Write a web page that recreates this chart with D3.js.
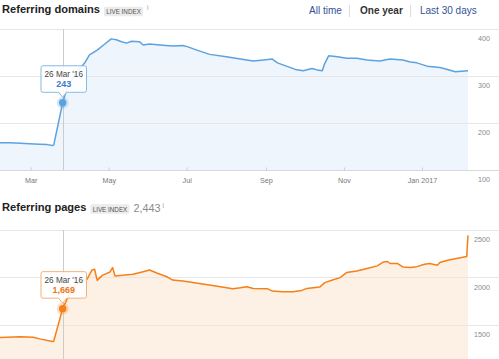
<!DOCTYPE html>
<html>
<head>
<meta charset="utf-8">
<script src="https://cdn.jsdelivr.net/npm/d3@7/dist/d3.min.js"></script>
<style>
  html, body { margin: 0; padding: 0; background: #fff; }
  svg { display: block; font-family: "Liberation Sans", Arial, Helvetica, sans-serif; }
</style>
</head>
<body>
<svg id="chart" width="499" height="359"></svg>
<script>
// ---------- DATA ----------
const domainDates = ["2016-02-06","2016-02-14","2016-02-22","2016-02-29","2016-03-08","2016-03-14","2016-03-18","2016-03-19","2016-03-26","2016-03-29","2016-04-02","2016-04-07","2016-04-12","2016-04-16","2016-04-22","2016-04-27","2016-05-03","2016-05-07","2016-05-11","2016-05-15","2016-05-19","2016-05-25","2016-05-28","2016-06-02","2016-06-10","2016-06-20","2016-06-28","2016-07-02","2016-07-09","2016-07-19","2016-08-01","2016-08-12","2016-08-22","2016-08-30","2016-09-06","2016-09-10","2016-09-17","2016-09-24","2016-09-30","2016-10-07","2016-10-11","2016-10-15","2016-10-17","2016-10-20","2016-10-27","2016-11-03","2016-11-11","2016-11-19","2016-11-29","2016-12-07","2016-12-17","2016-12-23","2016-12-28","2017-01-05","2017-01-15","2017-01-21","2017-01-27","2017-02-01","2017-02-06"];
const domainValues = [158,158,157,156,155,154,152,153,243,270,290,312,327,345,355,366,379,377,373,370,374,373,366,368,366,364,365,362,355,346,341,336,332,334,336,328,321,314,311,316,313,311,327,343,341,338,338,334,332,336,334,330,328,321,318,314,309,310,311];

const pageDates = ["2016-02-06","2016-02-22","2016-03-03","2016-03-08","2016-03-18","2016-03-19","2016-03-26","2016-04-02","2016-04-09","2016-04-14","2016-04-18","2016-04-20","2016-04-22","2016-04-26","2016-05-02","2016-05-04","2016-05-06","2016-05-12","2016-05-20","2016-05-28","2016-06-02","2016-06-08","2016-06-16","2016-06-20","2016-06-28","2016-07-11","2016-07-25","2016-08-06","2016-08-12","2016-08-17","2016-08-22","2016-09-02","2016-09-06","2016-09-14","2016-09-22","2016-09-29","2016-10-03","2016-10-13","2016-10-17","2016-10-23","2016-10-29","2016-11-03","2016-11-11","2016-11-19","2016-11-27","2016-12-02","2016-12-05","2016-12-07","2016-12-13","2016-12-17","2016-12-23","2016-12-28","2017-01-03","2017-01-07","2017-01-13","2017-01-15","2017-01-21","2017-01-28","2017-02-05","2017-02-06"];
const pageValues = [1365,1372,1368,1350,1322,1325,1669,1872,1961,1979,2078,2085,1968,2021,2056,2103,2014,2021,2032,2060,2078,2043,2003,1971,1961,1936,1907,1880,1890,1901,1883,1880,1855,1848,1848,1862,1883,1897,1944,1971,1997,2050,2067,2093,2121,2163,2167,2146,2146,2110,2103,2113,2138,2146,2128,2156,2181,2199,2220,2443];

const xTickDates = ["2016-03-01","2016-05-01","2016-07-01","2016-09-01","2016-11-01","2017-01-01"];
const xTickLabels = ["Mar","May","Jul","Sep","Nov","Jan 2017"];
const domainTicks = [100,200,300,400];
const pageTicks = [1000,1500,2000,2500];
const rangeOptions = ["All time","One year","Last 30 days"];
const hoverDate = "2016-03-26";
const hoverLabel = "26 Mar '16";
const domainHover = 243;
const pageHover = 1669;
const pageTotal = "2,443";

// ---------- SETUP ----------
const parse = d3.timeParse("%Y-%m-%d");
const svg = d3.select("#chart");
const W = 499, H = 359;
const plotRight = 468;
const x = d3.scaleTime()
  .domain([parse("2016-02-06"), parse("2017-02-06")])
  .range([0, plotRight]);

function header(y, title, extra) {
  const g = svg.append("g");
  const t = g.append("text").attr("x", 2).attr("y", y)
    .attr("font-size", 11.1).attr("font-weight", "bold").attr("fill", "#222").text(title);
  const tw = t.node().getComputedTextLength();
  const bx = 2 + tw + 4;
  g.append("rect").attr("x", bx).attr("y", y - 6.5).attr("width", 39).attr("height", 9.5)
    .attr("rx", 1.5).attr("fill", "#ebebeb");
  g.append("text").attr("x", bx + 19.5).attr("y", y + 0.8).attr("text-anchor", "middle")
    .attr("font-size", 6.3).attr("fill", "#555").text("LIVE INDEX");
  let ix = bx + 43;
  if (extra) {
    const e = g.append("text").attr("x", bx + 43).attr("y", y + 1).attr("font-size", 10.8)
      .attr("fill", "#8a8a8a").text(extra);
    ix = bx + 43 + e.node().getComputedTextLength() + 2;
  }
  g.append("text").attr("x", ix).attr("y", y - 3).attr("font-size", 6.5)
    .attr("fill", "#999").text("i");
}

function panel(cfg) {
  const y = d3.scaleLinear().domain(cfg.yDomain).range(cfg.yRange);
  const data = cfg.dates.map((d, i) => ({ date: parse(d), value: cfg.values[i] }));
  const g = svg.append("g");
  const bottom = y(cfg.yDomain[0]);
  const top = y(cfg.yDomain[1]);
  const visBottom = Math.min(bottom, H);

  // area
  g.append("path").datum(data)
    .attr("fill", cfg.fill)
    .attr("d", d3.area().x(d => x(d.date)).y0(visBottom).y1(d => y(d.value)));

  // gridlines (only those inside the picture)
  const vis = cfg.ticks.filter(t => y(t) < H);
  g.selectAll(".grid").data(vis).enter().append("line")
    .attr("x1", 0).attr("x2", W)
    .attr("y1", d => Math.round(y(d)) + 0.5).attr("y2", d => Math.round(y(d)) + 0.5)
    .attr("stroke", d => d === cfg.yDomain[0] ? "#d9d9d9" : "#e6e6e6").attr("stroke-width", 1);

  // y labels (only those whose text fits in the picture)
  g.selectAll(".ylab").data(cfg.ticks.filter(t => y(t) + 12.3 < H)).enter().append("text")
    .attr("x", 490).attr("y", d => y(d) + 12.3)
    .attr("text-anchor", "end").attr("font-size", 7.2).attr("fill", "#8a8a8a")
    .text(d => d);

  // x axis (only when it is inside the picture)
  if (bottom + 14 < H) {
    const axis = d3.axisBottom(x)
      .tickValues(xTickDates.map(parse))
      .tickFormat((d, i) => xTickLabels[i])
      .tickSizeInner(-3).tickSizeOuter(0).tickPadding(7);
    const ax = g.append("g").attr("transform", `translate(0,${Math.round(bottom) + 0.5})`).call(axis);
    ax.select(".domain").remove();
    ax.selectAll(".tick line").attr("stroke", "#cfcfcf");
    ax.selectAll(".tick text").attr("fill", "#777").attr("font-size", 7.2)
      .attr("font-family", "Liberation Sans, Arial, sans-serif");
  }

  // crosshair
  const hx = Math.round(x(parse(hoverDate))) + 0.5;
  g.append("line").attr("x1", hx).attr("x2", hx).attr("y1", top).attr("y2", visBottom)
    .attr("stroke", "#cccccc").attr("stroke-width", 1);

  // line
  g.append("path").datum(data)
    .attr("fill", "none").attr("stroke", cfg.color).attr("stroke-width", 1.5)
    .attr("stroke-linejoin", "round")
    .attr("d", d3.line().x(d => x(d.date)).y(d => y(d.value)));

  // hover point
  const px = x(parse(hoverDate)), py = y(cfg.hover);
  g.append("circle").attr("cx", px).attr("cy", py).attr("r", 6).attr("fill", cfg.halo);
  g.append("circle").attr("cx", px).attr("cy", py).attr("r", 3.7).attr("fill", cfg.color);

  // tooltip
  const bw = 45.5, bh = 26.5;
  const bx0 = 41, by1 = py - 10.5, by0 = by1 - bh;
  const tipX = px;
  const path = `M${bx0 + 2},${by0} H${bx0 + bw - 2} Q${bx0 + bw},${by0} ${bx0 + bw},${by0 + 2}
    V${by1 - 2} Q${bx0 + bw},${by1} ${bx0 + bw - 2},${by1}
    H${tipX + 4} L${tipX},${by1 + 5} L${tipX - 4},${by1}
    H${bx0 + 2} Q${bx0},${by1} ${bx0},${by1 - 2} V${by0 + 2} Q${bx0},${by0} ${bx0 + 2},${by0} Z`;
  g.append("path").attr("d", path).attr("fill", "rgba(255,255,255,0.88)")
    .attr("stroke", cfg.tipBorder).attr("stroke-width", 1);
  g.append("text").attr("x", bx0 + bw / 2).attr("y", by0 + 11.3).attr("text-anchor", "middle")
    .attr("font-size", 8.2).attr("fill", "#444").text(hoverLabel);
  g.append("text").attr("x", bx0 + bw / 2).attr("y", by0 + 21.3).attr("text-anchor", "middle")
    .attr("font-size", 9).attr("font-weight", "bold").attr("fill", cfg.valueColor)
    .text(d3.format(",")(cfg.hover));
}

// ---------- HEADERS ----------
header(13.3, "Referring domains", null);
header(210.7, "Referring pages", pageTotal);

// range selector
const opts = svg.append("g");
const optX = [309, 360, 420];
rangeOptions.forEach((o, i) => {
  opts.append("text").attr("x", optX[i]).attr("y", 14.2).attr("font-size", 10)
    .attr("font-weight", i === 1 ? "bold" : "normal")
    .attr("fill", i === 1 ? "#333" : "#34509a").text(o);
});
[349.5, 410.5].forEach(sx => {
  opts.append("line").attr("x1", sx).attr("x2", sx).attr("y1", 5).attr("y2", 17)
    .attr("stroke", "#dddddd");
});

// ---------- PANELS ----------
panel({
  dates: domainDates, values: domainValues,
  yDomain: [100, 400], yRange: [170, 29], ticks: domainTicks,
  color: "#5ba2df", fill: "#eef5fc", halo: "rgba(91,162,223,0.25)",
  tipBorder: "#86b9e6", valueColor: "#3b7cc9", hover: domainHover
});
panel({
  dates: pageDates, values: pageValues,
  yDomain: [1000, 2500], yRange: [372, 230], ticks: pageTicks,
  color: "#f77f17", fill: "#fdf1e6", halo: "rgba(247,127,23,0.25)",
  tipBorder: "#f5b078", valueColor: "#ee7616", hover: pageHover
});
</script>
</body>
</html>
